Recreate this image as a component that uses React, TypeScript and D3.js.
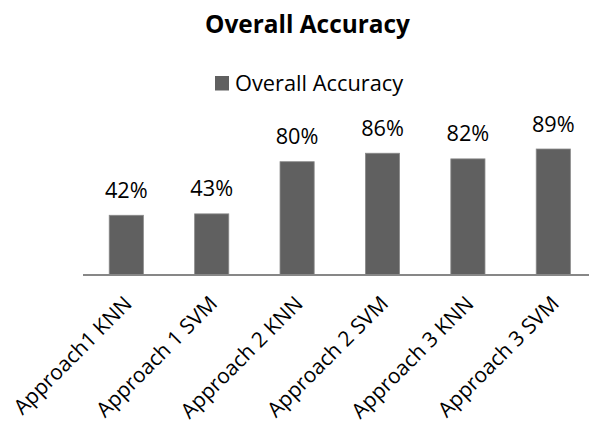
import React from "react";
import * as d3 from "d3";

const categories = [
  "Approach1 KNN",
  "Approach 1 SVM",
  "Approach 2 KNN",
  "Approach 2 SVM",
  "Approach 3 KNN",
  "Approach 3 SVM",
];
const values = [42, 43, 80, 86, 82, 89];
const seriesName = "Overall Accuracy";
const title = "Overall Accuracy";

const W = 589;
const H = 425;
const FONT = "'Open Sans', 'Noto Sans', sans-serif";

export default function App() {
  const x = d3
    .scaleBand<string>()
    .domain(categories)
    .range([83.6, 596])
    .paddingInner(0.6)
    .paddingOuter(0.3);
  const y = d3.scaleLinear().domain([0, 100]).range([274.5, 133.5]);
  const bw = x.bandwidth();

  return (
    <svg
      width={W}
      height={H}
      style={{ position: "absolute", left: 0, top: 0, display: "block", background: "#fff" }}
      fontFamily={FONT}
    >
      <text x={307.5} y={33.3} textAnchor="middle" fontWeight="bold" fontSize={24.4} fill="#000">
        {title}
      </text>
      <rect x={215} y={76} width={14} height={14.5} fill="#606060" />
      <text x={235} y={90.5} fontSize={21.8} fill="#000">
        {seriesName}
      </text>
      {categories.map((c, i) => (
        <g key={c}>
          <rect
            x={x(c)!}
            y={y(values[i])}
            width={bw}
            height={y(0) - y(values[i])}
            fill="#606060"
            stroke="#8a8a8a"
            strokeWidth={0.8}
          />
          <text
            x={x(c)! + bw / 2}
            y={y(values[i]) - 17.5}
            textAnchor="middle"
            fontSize={21.7}
            fill="#000"
          >
            {values[i]}%
          </text>
          <text
            transform={`translate(${x(c)! + bw / 2 + 7},${305}) rotate(-45)`}
            textAnchor="end"
            fontSize={21}
            fill="#000"
          >
            {c}
          </text>
        </g>
      ))}
      <line x1={83} x2={W} y1={275} y2={275} stroke="#878787" strokeWidth={2} />
    </svg>
  );
}
